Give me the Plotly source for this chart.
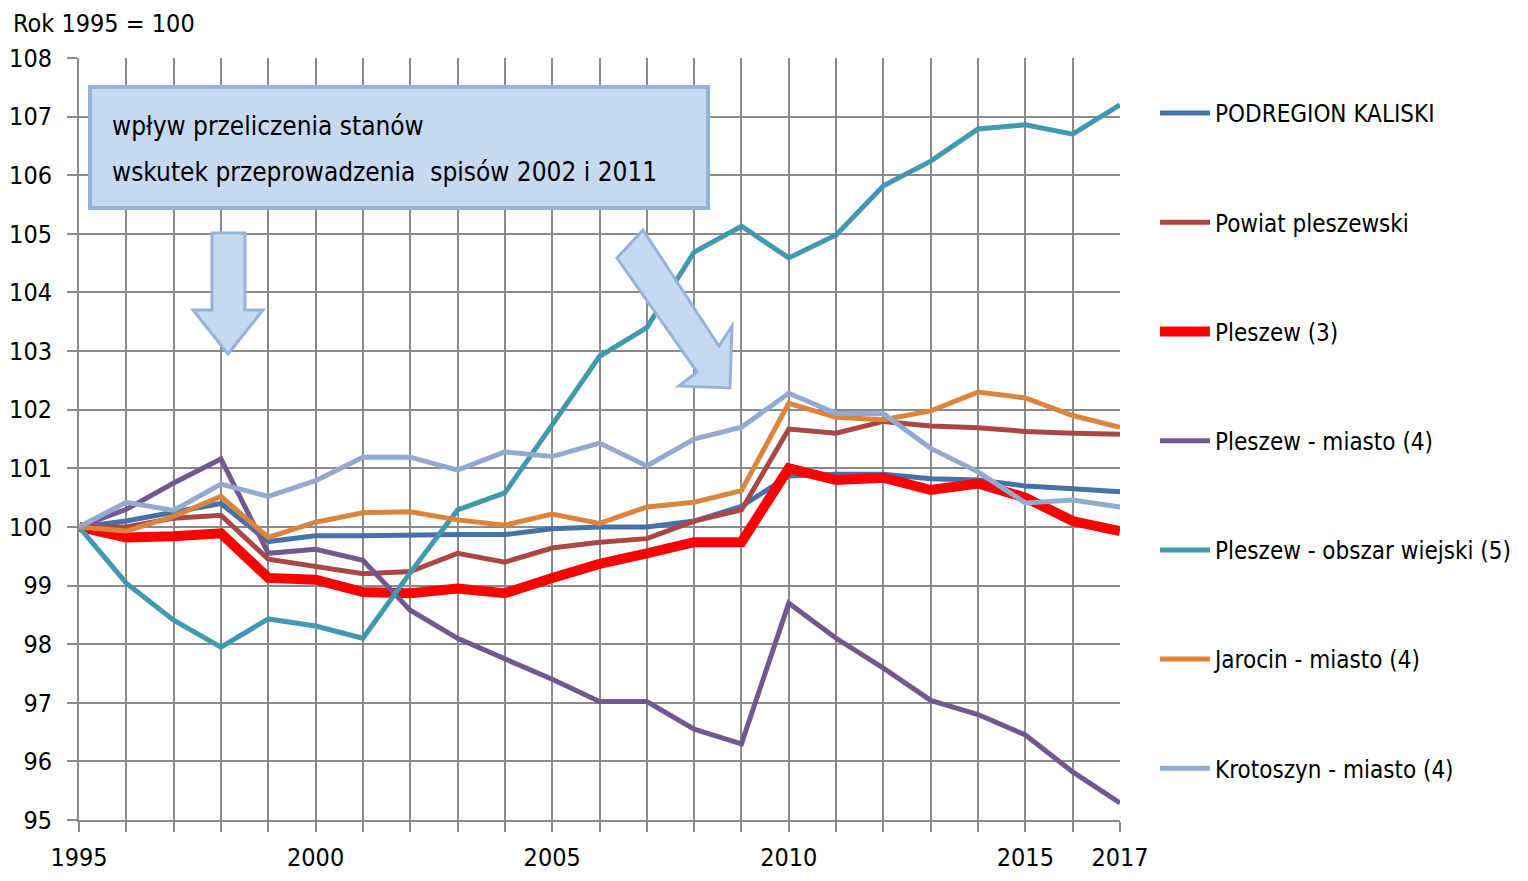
import plotly.graph_objects as go

years = list(range(1995, 2018))

podregion = [100, 100.1, 100.25, 100.4, 99.75, 99.85, 99.85, 99.87, 99.87, 99.87, 99.97, 100.0, 100.0, 100.1, 100.35,
             100.87, 100.9, 100.9, 100.82, 100.8, 100.7, 100.65, 100.6]
powiat = [100, 100.0, 100.15, 100.2, 99.45, 99.33, 99.2, 99.24, 99.55, 99.4, 99.64, 99.74, 99.8, 100.1, 100.29,
          101.67, 101.6, 101.8, 101.72, 101.69, 101.63, 101.6, 101.58]
pleszew = [100, 99.82, 99.84, 99.89, 99.13, 99.1, 98.89, 98.87, 98.95, 98.87, 99.13, 99.37, 99.55, 99.74, 99.74,
           101.0, 100.8, 100.84, 100.63, 100.74, 100.5, 100.1, 99.93]
pleszew_miasto = [100, 100.3, 100.75, 101.16, 99.55, 99.62, 99.43, 98.58, 98.1, 97.75, 97.4, 97.02, 97.02, 96.55, 96.3,
                  98.7, 98.1, 97.59, 97.04, 96.8, 96.45, 95.82, 95.29]
pleszew_wies = [100, 99.04, 98.41, 97.95, 98.43, 98.31, 98.1, 99.22, 100.29, 100.58, 101.74, 102.91, 103.4, 104.69, 105.13,
                104.59, 104.98, 105.82, 106.24, 106.79, 106.86, 106.7, 107.2]
jarocin = [100, 99.93, 100.18, 100.52, 99.82, 100.08, 100.24, 100.26, 100.12, 100.03, 100.22, 100.06, 100.34, 100.42, 100.62,
           102.11, 101.87, 101.83, 101.98, 102.3, 102.2, 101.9, 101.7]
krotoszyn = [100, 100.42, 100.28, 100.73, 100.52, 100.79, 101.19, 101.19, 100.97, 101.28, 101.2, 101.43, 101.04, 101.5, 101.7,
             102.28, 101.94, 101.93, 101.34, 100.94, 100.41, 100.46, 100.34]

series_names = ["PODREGION KALISKI", "Powiat pleszewski", "Pleszew (3)", "Pleszew - miasto (4)",
                "Pleszew - obszar wiejski (5)", "Jarocin - miasto (4)", "Krotoszyn - miasto (4)"]
series_values = [podregion, powiat, pleszew, pleszew_miasto, pleszew_wies, jarocin, krotoszyn]
series_colors = ["#4572A7", "#AA4643", "#FF0000", "#71588F", "#4198AF", "#DB843D", "#93A9CF"]
series_widths = [5, 5, 10, 5, 5, 5, 5]

x_tick_labels = {1995: "1995", 2000: "2000", 2005: "2005", 2010: "2010", 2015: "2015", 2017: "2017"}
y_ticks = list(range(95, 109))

FONT = "Liberation Sans Narrow, Arial Narrow, DejaVu Sans Condensed, sans-serif"
OFF = 8  # page body margin
W, H = 1528 - 2 * OFF, 881 - 2 * OFF
L, R, T, B = 79, 1120, 58, 820  # plot area in screen pixels


def X(px):
    return (px - L) / (R - L)


def Y(py):
    return (B - py) / (B - T)


fig = go.Figure()
for i, (name, vals, col, w) in enumerate(zip(series_names, series_values, series_colors, series_widths)):
    fig.add_trace(go.Scatter(x=years, y=vals, mode="lines", name=name, legendgroup=f"g{i}",
                             line=dict(color=col, width=w)))

grid = "#8a8a8a"
fig.update_xaxes(range=[1995, 2017], tickvals=years,
                 ticktext=[x_tick_labels.get(y, "") for y in years],
                 showgrid=True, gridcolor=grid, gridwidth=2,
                 showline=True, linecolor=grid, linewidth=2,
                 ticks="outside", ticklen=10, tickcolor=grid, tickwidth=2,
                 tickfont=dict(family=FONT, size=25, color="black"),
                 ticklabelstandoff=4, zeroline=False, automargin=False)
fig.update_yaxes(range=[95, 108], tickvals=y_ticks,
                 showgrid=True, gridcolor=grid, gridwidth=2,
                 showline=True, linecolor=grid, linewidth=2,
                 ticks="outside", ticklen=10, tickcolor=grid, tickwidth=2,
                 tickfont=dict(family=FONT, size=25, color="black"),
                 ticklabelstandoff=10, zeroline=False, automargin=False)

fill = "#c6d9f1"
edge = "#95b3d7"
shapes = [
    dict(type="rect", xref="paper", yref="paper", x0=X(90), x1=X(708), y0=Y(208), y1=Y(87),
         fillcolor=fill, line=dict(color=edge, width=4), layer="above"),
]
down = [(212, 233), (245, 233), (245, 310), (263, 310), (228, 354), (193, 310), (212, 310)]
diag = [(643, 230), (719, 346), (732, 326), (730, 388), (679, 386), (697, 372), (617, 258)]
for pts in (down, diag):
    path = "M " + " L ".join(f"{X(a):.5f},{Y(b):.5f}" for a, b in pts) + " Z"
    shapes.append(dict(type="path", xref="paper", yref="paper", path=path,
                       fillcolor=fill, line=dict(color=edge, width=3), layer="above"))

annotations = [
    dict(text="Rok 1995 = 100", xref="paper", yref="paper", x=X(11), y=Y(24), xanchor="left", yanchor="middle",
         showarrow=False, font=dict(family=FONT, size=25, color="black")),
    dict(text="wpływ przeliczenia stanów", xref="paper", yref="paper", x=X(110), y=Y(126),
         xanchor="left", yanchor="middle", showarrow=False, font=dict(family=FONT, size=26, color="black")),
    dict(text="wskutek przeprowadzenia  spisów 2002 i 2011", xref="paper", yref="paper", x=X(110), y=Y(172),
         xanchor="left", yanchor="middle", showarrow=False, font=dict(family=FONT, size=26, color="black")),
]

fig.update_layout(
    width=W, height=H,
    margin=dict(l=L - OFF, r=W - (R - OFF), t=T - OFF, b=H - (B - OFF), pad=0, autoexpand=False),
    paper_bgcolor="white", plot_bgcolor="white",
    shapes=shapes, annotations=annotations,
    showlegend=True,
    legend=dict(xref="container", yref="container", x=(1155 - OFF) / W, y=1 - (91 - OFF) / H,
                xanchor="left", yanchor="top", maxheight=2000,
                font=dict(family=FONT, size=24, color="black"),
                traceorder="grouped", tracegroupgap=75, bgcolor="rgba(0,0,0,0)",
                itemwidth=50),
)

fig.write_html("out.html")
